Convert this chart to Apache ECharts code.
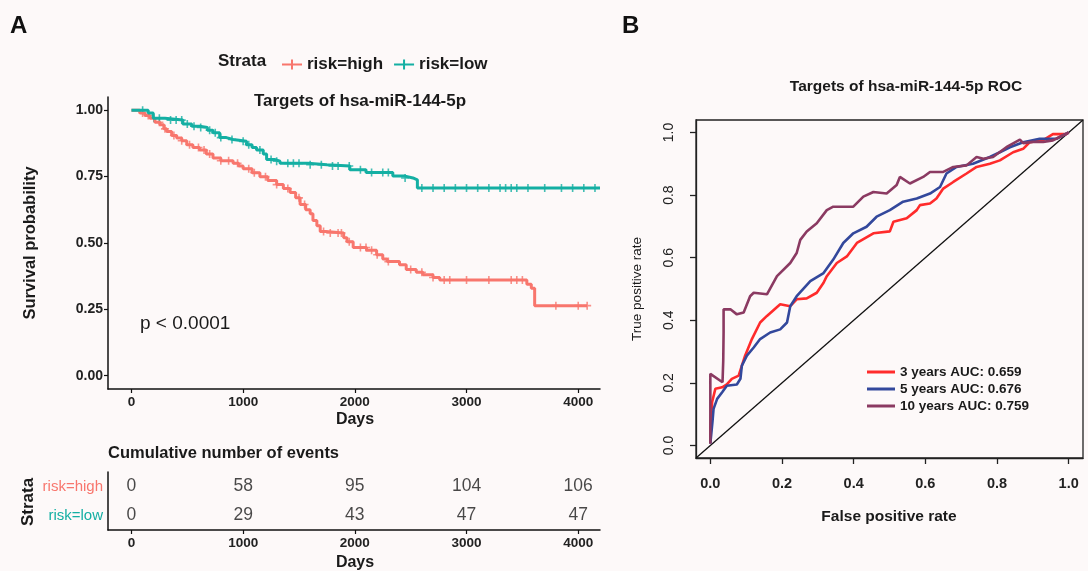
<!DOCTYPE html>
<html>
<head>
<meta charset="utf-8">
<script src="https://cdn.jsdelivr.net/npm/echarts@6/dist/echarts.min.js"></script>
<style>
  html, body { margin: 0; padding: 0; background: #fdf9f9; }
  #main { width: 1088px; height: 571px; }
</style>
</head>
<body>
<div id="main"></div>
<script>
// ---- KM curve data (time in days, survival after each step) ----
var highTime = [0, 75, 120, 165, 210, 255, 290, 315, 360, 405, 450, 495, 550, 610, 670, 730, 800, 910, 960, 1000, 1080, 1150, 1220, 1300, 1360, 1420, 1470, 1510, 1560, 1600, 1625, 1660, 1690, 1740, 1900, 1930, 1985, 2105, 2195, 2250, 2290, 2400, 2460, 2550, 2610, 2700, 2760, 3540, 3580, 3610, 4080];
var highSurv = [1.0, 0.99, 0.98, 0.97, 0.955, 0.945, 0.93, 0.92, 0.905, 0.896, 0.885, 0.87, 0.86, 0.85, 0.835, 0.82, 0.81, 0.80, 0.79, 0.78, 0.765, 0.75, 0.735, 0.72, 0.705, 0.69, 0.67, 0.645, 0.625, 0.61, 0.585, 0.565, 0.543, 0.538, 0.52, 0.505, 0.483, 0.473, 0.456, 0.44, 0.43, 0.418, 0.40, 0.39, 0.38, 0.37, 0.361, 0.345, 0.33, 0.264, 0.264];
var lowTime = [0, 150, 195, 300, 460, 540, 610, 680, 730, 790, 850, 910, 1030, 1080, 1120, 1180, 1210, 1280, 1330, 1580, 1750, 1955, 2100, 2340, 2450, 2520, 2560, 4195];
var lowSurv = [1.0, 0.99, 0.97, 0.963, 0.948, 0.94, 0.935, 0.925, 0.915, 0.897, 0.89, 0.883, 0.87, 0.86, 0.85, 0.835, 0.815, 0.808, 0.80, 0.795, 0.79, 0.776, 0.766, 0.752, 0.745, 0.738, 0.707, 0.707];
// censor times
var highCens = [100, 150, 250, 300, 380, 450, 520, 600, 650, 700, 800, 870, 950, 1050, 1100, 1200, 1300, 1400, 1500, 1550, 1720, 1780, 1850, 1880, 1950, 2050, 2100, 2150, 2200, 2300, 2500, 2600, 2700, 2800, 2850, 3000, 3200, 3400, 3450, 3500, 3800, 4000, 4080];
var lowCens = [100, 200, 250, 350, 400, 450, 500, 560, 620, 700, 750, 800, 900, 1000, 1050, 1150, 1250, 1300, 1400, 1450, 1500, 1600, 1700, 1800, 1850, 1950, 2050, 2150, 2250, 2300, 2450, 2600, 2700, 2800, 2900, 3000, 3100, 3200, 3300, 3350, 3400, 3450, 3550, 3700, 3850, 3950, 4050, 4150];

// ---- risk table ----
var tableDays = [0, 1000, 2000, 3000, 4000];
var highEvents = [0, 58, 95, 104, 106];
var lowEvents = [0, 29, 43, 47, 47];
var strata = ['risk=high', 'risk=low'];

// ---- ROC data ----
var roc3Fpr = [0, 0, 0.005, 0.014, 0.033, 0.046, 0.06, 0.079, 0.088, 0.097, 0.116, 0.139, 0.158, 0.195, 0.223, 0.241, 0.269, 0.297, 0.316, 0.325, 0.353, 0.381, 0.409, 0.455, 0.501, 0.511, 0.548, 0.576, 0.585, 0.613, 0.631, 0.65, 0.678, 0.715, 0.743, 0.78, 0.808, 0.845, 0.873, 0.891, 0.928, 0.956, 0.993, 1];
var roc3Tpr = [0.006, 0.06, 0.139, 0.181, 0.186, 0.195, 0.213, 0.223, 0.255, 0.287, 0.34, 0.393, 0.414, 0.451, 0.445, 0.467, 0.47, 0.488, 0.52, 0.541, 0.583, 0.604, 0.647, 0.678, 0.684, 0.715, 0.726, 0.752, 0.768, 0.773, 0.789, 0.821, 0.842, 0.869, 0.89, 0.9, 0.911, 0.937, 0.948, 0.969, 0.975, 0.995, 0.995, 1];
var roc5Fpr = [0, 0.006, 0.009, 0.019, 0.033, 0.046, 0.074, 0.084, 0.088, 0.102, 0.121, 0.139, 0.167, 0.195, 0.214, 0.223, 0.241, 0.279, 0.316, 0.343, 0.371, 0.399, 0.436, 0.464, 0.501, 0.538, 0.576, 0.613, 0.641, 0.659, 0.687, 0.733, 0.78, 0.808, 0.836, 0.873, 0.919, 0.966, 1];
var roc5Tpr = [0.006, 0.076, 0.117, 0.149, 0.17, 0.191, 0.195, 0.213, 0.255, 0.287, 0.313, 0.34, 0.361, 0.371, 0.393, 0.445, 0.477, 0.525, 0.551, 0.594, 0.647, 0.678, 0.699, 0.731, 0.752, 0.779, 0.789, 0.805, 0.826, 0.869, 0.89, 0.9, 0.922, 0.937, 0.953, 0.969, 0.98, 0.98, 1];
var roc10Fpr = [0, 0, 0.034, 0.036, 0.037, 0.037, 0.056, 0.074, 0.093, 0.111, 0.121, 0.158, 0.186, 0.223, 0.241, 0.251, 0.269, 0.297, 0.325, 0.343, 0.371, 0.399, 0.427, 0.455, 0.492, 0.52, 0.529, 0.557, 0.594, 0.613, 0.65, 0.678, 0.715, 0.743, 0.762, 0.789, 0.826, 0.864, 0.873, 0.9, 0.929, 0.956, 0.965, 1];
var roc10Tpr = [0.006, 0.229, 0.202, 0.27, 0.362, 0.435, 0.435, 0.419, 0.425, 0.477, 0.488, 0.483, 0.541, 0.583, 0.615, 0.657, 0.684, 0.71, 0.752, 0.763, 0.763, 0.763, 0.795, 0.81, 0.805, 0.832, 0.858, 0.837, 0.858, 0.874, 0.874, 0.89, 0.895, 0.922, 0.916, 0.922, 0.953, 0.977, 0.966, 0.97, 0.97, 0.975, 0.98, 1];
var rocNames = ['3 years AUC: 0.659', '5 years AUC: 0.676', '10 years AUC: 0.759'];
var refLine = [-0.04, 1.04];

var FONT = '"Liberation Sans", Arial, sans-serif';
var HIGH_C = '#F8766D', LOW_C = '#14AFA3';
var ROC_C = ['#FF2B2B', '#33489C', '#8B3A62'];

function zip(a, b) { return a.map(function (v, i) { return [v, b[i]]; }); }
function survAt(times, surv, t) {
  var s = surv[0];
  for (var i = 0; i < times.length; i++) { if (times[i] <= t) s = surv[i]; }
  return s;
}
function censData(times, surv, cens) {
  return cens.map(function (t) { return [t, survAt(times, surv, t)]; });
}
var plusPath = 'path://M4,0 H6 V10 H4 Z M0,4 H10 V6 H0 Z';

var chart = echarts.init(document.getElementById('main'));

var dayAxis = function (gi) {
  return {
    gridIndex: gi, type: 'value', min: -210, max: 4195, position: 'bottom',
    axisLine: { show: true, onZero: false, lineStyle: { color: '#111', width: 1.5 } },
    axisTick: { show: true, customValues: tableDays, length: 4, lineStyle: { color: '#111', width: 1.2 } },
    axisLabel: { customValues: tableDays, formatter: function (v) { return String(v); }, fontWeight: 'bold', fontSize: 13.5, color: '#222', margin: 6, fontFamily: FONT },
    splitLine: { show: false }
  };
};

var option = {
  backgroundColor: '#fdf9f9',
  animation: false,
  textStyle: { fontFamily: FONT },
  grid: [
    { left: 108, top: 97, width: 492, height: 292 },
    { left: 108, top: 472, width: 492, height: 58 },
    { left: 696, top: 120, width: 387, height: 338, show: true, borderColor: '#222', borderWidth: 1.3, backgroundColor: 'transparent' }
  ],
  xAxis: [
    dayAxis(0),
    dayAxis(1),
    {
      gridIndex: 2, type: 'value', min: -0.04, max: 1.04,
      axisLine: { onZero: false, lineStyle: { color: '#222', width: 1.3 } },
      axisTick: { customValues: [0, 0.2, 0.4, 0.6, 0.8, 1], length: 6, lineStyle: { color: '#222', width: 1.3 } },
      axisLabel: { customValues: [0, 0.2, 0.4, 0.6, 0.8, 1], formatter: function (v) { return v.toFixed(1); }, fontWeight: 'bold', fontSize: 14.5, color: '#222', margin: 18 },
      splitLine: { show: false }
    }
  ],
  yAxis: [
    {
      gridIndex: 0, type: 'value', min: -0.05, max: 1.05,
      axisLine: { onZero: false, lineStyle: { color: '#111', width: 1.5 } },
      axisTick: { customValues: [0, 0.25, 0.5, 0.75, 1], length: 4, lineStyle: { color: '#111', width: 1.2 } },
      axisLabel: { customValues: [0, 0.25, 0.5, 0.75, 1], formatter: function (v) { return v.toFixed(2); }, fontWeight: 'bold', fontSize: 14, color: '#222', margin: 5 },
      splitLine: { show: false }
    },
    {
      gridIndex: 1, type: 'category', data: strata, inverse: true, position: 'left',
      axisLine: { show: true, onZero: false, lineStyle: { color: '#111', width: 1.5 } },
      axisTick: { alignWithLabel: true, length: 4, lineStyle: { color: '#111', width: 1.2 } },
      axisLabel: {
        margin: 5, fontSize: 15,
        formatter: function (v) { return (v === 'risk=high' ? '{h|' : '{l|') + v + '}'; },
        rich: { h: { color: HIGH_C, fontSize: 15, fontFamily: FONT }, l: { color: LOW_C, fontSize: 15, fontFamily: FONT } }
      },
      splitLine: { show: false }
    },
    {
      gridIndex: 2, type: 'value', min: -0.04, max: 1.04,
      axisLine: { onZero: false, lineStyle: { color: '#222', width: 1.3 } },
      axisTick: { customValues: [0, 0.2, 0.4, 0.6, 0.8, 1], length: 6, lineStyle: { color: '#222', width: 1.3 } },
      axisLabel: { customValues: [0, 0.2, 0.4, 0.6, 0.8, 1], formatter: function (v) { return v.toFixed(1); }, rotate: 90, fontSize: 14, color: '#222', margin: 20 },
      splitLine: { show: false }
    }
  ],
  legend: [
    {
      data: ['risk=high', 'risk=low'], left: 277, top: 51, itemWidth: 20, itemHeight: 10, itemGap: 11,
      icon: 'path://M0,4 H20 V6 H0 Z M9,0 H11 V10 H9 Z',
      textStyle: { fontSize: 17, fontWeight: 'bold', color: '#1a1a1a', fontFamily: FONT }
    },
    {
      data: rocNames, orient: 'vertical', left: 862, top: 360, itemWidth: 28, itemHeight: 3, itemGap: 3,
      icon: 'rect',
      textStyle: { fontSize: 13.5, fontWeight: 'bold', color: '#1a1a1a', fontFamily: FONT }
    }
  ],
  series: [
    { name: 'risk=high', type: 'line', xAxisIndex: 0, yAxisIndex: 0, step: 'end', symbol: 'none', data: zip(highTime, highSurv), lineStyle: { color: HIGH_C, width: 3 }, itemStyle: { color: HIGH_C } },
    { name: 'risk=low', type: 'line', xAxisIndex: 0, yAxisIndex: 0, step: 'end', symbol: 'none', data: zip(lowTime, lowSurv), lineStyle: { color: LOW_C, width: 3 }, itemStyle: { color: LOW_C } },
    { type: 'scatter', xAxisIndex: 0, yAxisIndex: 0, symbol: plusPath, symbolSize: 8, data: censData(highTime, highSurv, highCens), itemStyle: { color: HIGH_C } },
    { type: 'scatter', xAxisIndex: 0, yAxisIndex: 0, symbol: plusPath, symbolSize: 8, data: censData(lowTime, lowSurv, lowCens), itemStyle: { color: LOW_C } },
    {
      type: 'scatter', xAxisIndex: 1, yAxisIndex: 1, symbolSize: 1, itemStyle: { color: 'transparent' },
      data: tableDays.map(function (d, i) { return [d, 'risk=high', highEvents[i]]; }).concat(tableDays.map(function (d, i) { return [d, 'risk=low', lowEvents[i]]; })),
      label: { show: true, position: 'inside', formatter: function (p) { return p.value[2]; }, fontSize: 17.5, color: '#1a1a1a', fontFamily: FONT }
    },
    { type: 'line', xAxisIndex: 2, yAxisIndex: 2, symbol: 'none', data: zip(refLine, refLine), lineStyle: { color: '#111', width: 1.3 } },
    { name: rocNames[0], type: 'line', xAxisIndex: 2, yAxisIndex: 2, symbol: 'none', data: zip(roc3Fpr, roc3Tpr), lineStyle: { color: ROC_C[0], width: 2.6 }, itemStyle: { color: ROC_C[0] } },
    { name: rocNames[1], type: 'line', xAxisIndex: 2, yAxisIndex: 2, symbol: 'none', data: zip(roc5Fpr, roc5Tpr), lineStyle: { color: ROC_C[1], width: 2.6 }, itemStyle: { color: ROC_C[1] } },
    { name: rocNames[2], type: 'line', xAxisIndex: 2, yAxisIndex: 2, symbol: 'none', data: zip(roc10Fpr, roc10Tpr), lineStyle: { color: ROC_C[2], width: 2.6 }, itemStyle: { color: ROC_C[2] } }
  ],
  graphic: [
    { type: 'text', left: 10, top: 14, style: { text: 'A', fontSize: 24, fontWeight: 'bold', fill: '#111', fontFamily: FONT } },
    { type: 'text', left: 622, top: 14, style: { text: 'B', fontSize: 24, fontWeight: 'bold', fill: '#111', fontFamily: FONT } },
    { type: 'text', x: 218, y: 61, style: { text: 'Strata', fontSize: 17, fontWeight: 'bold', fill: '#1a1a1a', fontFamily: FONT, textVerticalAlign: 'middle' } },
    { type: 'text', x: 360, y: 101, style: { text: 'Targets of hsa-miR-144-5p', fontSize: 17, fontWeight: 'bold', fill: '#1a1a1a', fontFamily: FONT, textAlign: 'center', textVerticalAlign: 'middle' } },
    { type: 'text', x: 140, y: 324, style: { text: 'p < 0.0001', fontSize: 19, fill: '#1a1a1a', fontFamily: FONT, textVerticalAlign: 'middle' } },
    { type: 'text', x: 30, y: 243, rotation: Math.PI / 2, style: { text: 'Survival probability', fontSize: 16.5, fontWeight: 'bold', fill: '#1a1a1a', fontFamily: FONT, textAlign: 'center', textVerticalAlign: 'middle' } },
    { type: 'text', x: 355, y: 420, style: { text: 'Days', fontSize: 16, fontWeight: 'bold', fill: '#1a1a1a', fontFamily: FONT, textAlign: 'center', textVerticalAlign: 'middle' } },
    { type: 'text', x: 108, y: 453, style: { text: 'Cumulative number of events', fontSize: 16.5, fontWeight: 'bold', fill: '#1a1a1a', fontFamily: FONT, textVerticalAlign: 'middle' } },
    { type: 'text', x: 28, y: 502, rotation: Math.PI / 2, style: { text: 'Strata', fontSize: 17, fontWeight: 'bold', fill: '#1a1a1a', fontFamily: FONT, textAlign: 'center', textVerticalAlign: 'middle' } },
    { type: 'text', x: 355, y: 563, style: { text: 'Days', fontSize: 16, fontWeight: 'bold', fill: '#1a1a1a', fontFamily: FONT, textAlign: 'center', textVerticalAlign: 'middle' } },
    { type: 'text', x: 906, y: 87, style: { text: 'Targets of hsa-miR-144-5p ROC', fontSize: 15.5, fontWeight: 'bold', fill: '#1a1a1a', fontFamily: FONT, textAlign: 'center', textVerticalAlign: 'middle' } },
    { type: 'text', x: 889, y: 517, style: { text: 'False positive rate', fontSize: 15.5, fontWeight: 'bold', fill: '#1a1a1a', fontFamily: FONT, textAlign: 'center', textVerticalAlign: 'middle' } },
    { type: 'text', x: 637, y: 289, rotation: Math.PI / 2, style: { text: 'True positive rate', fontSize: 13.5, fill: '#1a1a1a', fontFamily: FONT, textAlign: 'center', textVerticalAlign: 'middle' } }
  ]
};
chart.setOption(option);
</script>
</body>
</html>
